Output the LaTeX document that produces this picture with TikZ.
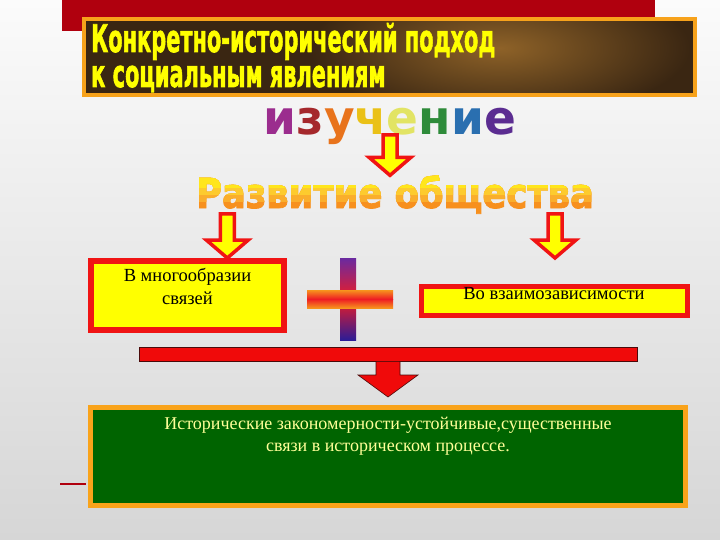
\documentclass[tikz,border=0pt]{standalone}
\usepackage{fontspec}
\usepackage{graphicx}
\setmainfont{Liberation Serif}
\newfontfamily\heavyfont[FakeBold=2]{DejaVu Sans}
\newfontfamily\roundfont{DejaVu Sans}
\usetikzlibrary{calc,positioning}
\definecolor{bgtop}{HTML}{FBFBFB}
\definecolor{bgbot}{HTML}{D6D6D6}
\definecolor{darkred}{HTML}{B0000E}
\definecolor{titleor}{HTML}{F7A21B}
\definecolor{titleyel}{HTML}{FFFF00}
\definecolor{brownd}{HTML}{3A2612}
\definecolor{brownl}{HTML}{8E6228}
\definecolor{boxred}{HTML}{F01414}
\definecolor{boxyel}{HTML}{FFFF00}
\definecolor{barred}{HTML}{F00A0A}
\definecolor{bardark}{HTML}{4A0A0A}
\definecolor{deepgreen}{HTML}{006400}
\definecolor{gorange}{HTML}{F9A31A}
\definecolor{paleyel}{HTML}{FFFF99}
\definecolor{crosspurp}{HTML}{6A2AA0}
\definecolor{crossred}{HTML}{EE1C24}
\definecolor{crossblue}{HTML}{2C1C96}
\definecolor{crossor}{HTML}{F7941D}
\definecolor{razvA}{HTML}{F7901E}
\definecolor{razvB}{HTML}{FAAE2C}
\definecolor{razvC}{HTML}{FDCB2E}
\definecolor{razvD}{HTML}{FFE61C}
\definecolor{izA}{HTML}{9B2D8E}
\definecolor{izB}{HTML}{A5282C}
\definecolor{izC}{HTML}{E8731C}
\definecolor{izD}{HTML}{EAC117}
\definecolor{izE}{HTML}{E2E464}
\definecolor{izF}{HTML}{2E8B3A}
\definecolor{izG}{HTML}{2A6FB0}
\definecolor{izH}{HTML}{5B2C91}
\tikzset{
  slidebox/.style={draw=boxred, line width=6pt, fill=boxyel, inner sep=0pt},
  boxtext/.style={font=\fontsize{18.5}{23}\selectfont, align=center, inner sep=0pt},
  heavytext/.style={font=\heavyfont\bfseries, inner sep=0pt},
  yarrow/.style={fill=boxyel, draw=boxred, line width=3.5pt, line join=miter},
  rarrow/.style={fill=barred, draw=bardark, line width=0.6pt},
}
% block arrow: [style]{from}{to}{shaft half width}{head half width}{head length}
\newcommand{\blockarrow}[6][]{%
  \draw[#1] let \p1=#2, \p2=#3 in
    (\x1-#4pt,\y1) -- (\x1+#4pt,\y1) -- (\x1+#4pt,\y2+#6pt)
    -- (\x1+#5pt,\y2+#6pt) -- (\x1,\y2) -- (\x1-#5pt,\y2+#6pt)
    -- (\x1-#4pt,\y2+#6pt) -- cycle;}
\newcommand{\razvtext}{\scalebox{0.86}[1]{\fontsize{41}{41}\selectfont Развитие общества}}

\begin{document}
\begin{tikzpicture}[x=1pt,y=-1pt]
\useasboundingbox (0,0) rectangle (720,540);
\shade[top color=bgtop, bottom color=bgbot] (0,0) rectangle (720,540);

% header
\fill[darkred] (62,0) rectangle (655,31);
\fill[brownd] (84,19) rectangle (695,95);
\begin{scope}
  \clip (84,19) rectangle (695,95);
  \shade[inner color=brownl, outer color=brownd] (500,48) ellipse (190 and 70);
\end{scope}
\draw[titleor, line width=4pt] (84,19) rectangle (695,95);
\node[heavytext, text=titleyel, anchor=base west] (head1) at (91,52)
  {\scalebox{0.55}[1]{\fontsize{38}{38}\selectfont Конкретно-исторический подход}};
\node[heavytext, text=titleyel, anchor=base west] (head2) at (91,87)
  {\scalebox{0.55}[1]{\fontsize{38}{38}\selectfont к социальным явлениям}};

% izuchenie
\node[font=\roundfont\bfseries\fontsize{47}{47}\selectfont, inner sep=0pt, anchor=base] (izuch) at (390,135)
  {\textcolor{izA}{и}\textcolor{izB}{з}\textcolor{izC}{у}\textcolor{izD}{ч}\textcolor{izE}{е}\textcolor{izF}{н}\textcolor{izG}{и}\textcolor{izH}{е}};

% razvitie, drawn in bands for the gradient
\node[heavytext, text=razvA, anchor=base] (razv) at (395,208) {\razvtext};
\foreach \yb/\col in {202/razvB, 195/razvC, 188/razvD}{
  \begin{scope}
    \clip (150,150) rectangle (650,\yb);
    \node[heavytext, text=\col, anchor=base] (razv-\col) at (395,208) {\razvtext};
  \end{scope}
}
\blockarrow[yarrow]{(izuch.base)}{(izuch.base |- razv.north)}{7}{21}{18}

% two boxes
\node[slidebox, minimum width=193pt, minimum height=69pt] (lbox) at (187.5,295.5) {};
\node[boxtext, below=10pt of lbox.north] (ltext) {В многообразии\\связей};
\node[slidebox, line width=5pt, minimum width=266pt, minimum height=29pt] (rbox) at (554,300.5) {};
\node[boxtext, above=1pt of rbox.center] (rtext) {Во взаимозависимости};
\coordinate (ltip) at ($(lbox.north west)!0.7!(lbox.north east)$);
\coordinate (rtip) at (555,258);
\blockarrow[yarrow]{(ltip |- razv.south)}{(ltip)}{7}{21}{18}
\blockarrow[yarrow]{(rtip |- razv.south)}{(rtip)}{7}{21}{18}

% plus sign
\shade[top color=crosspurp, bottom color=crossred] (340,258) rectangle (356,299);
\shade[top color=crossred, bottom color=crossblue] (340,299) rectangle (356,340);
\shade[top color=crossor, bottom color=crossred] (307,290) rectangle (393,299);
\shade[top color=crossred, bottom color=crossor] (307,299) rectangle (393,308);

% bar and result
\node[fill=barred, draw=bardark, line width=0.8pt, minimum width=498pt, minimum height=14pt, inner sep=0pt] (bar) at (388,354) {};
\node[draw=gorange, line width=5pt, fill=deepgreen, minimum width=595pt, minimum height=98pt, inner sep=0pt] (gbox) at (388,456.5) {};
\node[boxtext, font=\fontsize{18}{22}\selectfont, text=paleyel, below=12pt of gbox.north] (gtext)
  {Исторические закономерности-устойчивые,существенные\\связи в историческом процессе.};
\blockarrow[rarrow]{(bar.south)}{($(gbox.north)+(0,-8)$)}{12}{30}{22}
\draw[darkred, line width=1.5pt] (60,484) -- (86,484);
\end{tikzpicture}
\end{document}
